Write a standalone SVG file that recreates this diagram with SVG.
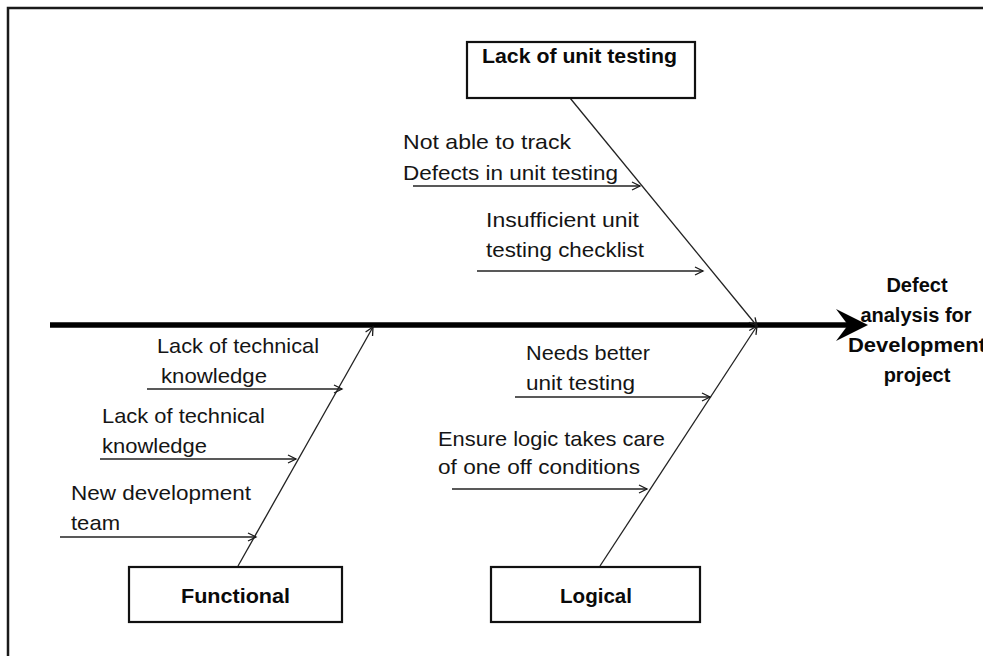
<svg xmlns="http://www.w3.org/2000/svg" width="983" height="656" viewBox="0 0 983 656">
  <defs>
    <marker id="open-arrow" markerUnits="userSpaceOnUse" markerWidth="12" markerHeight="12" refX="9" refY="5" orient="auto">
      <path d="M1,1 L9,5 L1,9" fill="none" stroke="#1a1a1a" stroke-width="1.3"/>
    </marker>
  </defs>
  <style>
    .frame { fill: none; stroke: #1a1a1a; stroke-width: 2.5; }
    .box { fill: #fff; stroke: #111; stroke-width: 2.2; }
    .bone { stroke: #222; stroke-width: 1.3; fill: none; marker-end: url(#open-arrow); }
    .spine { stroke: #000; stroke-width: 5.5; fill: none; }
    .label { font-family: "Liberation Sans", Arial, sans-serif; font-size: 21px; fill: #151515; }
    .title { font-family: "Liberation Sans", Arial, sans-serif; font-size: 20px; font-weight: bold; fill: #0a0a0a; }
  </style>

  <rect width="983" height="656" fill="#fff"/>
  <!-- outer frame, open to the right and bottom -->
  <rect class="frame" x="8" y="8" width="1000" height="700"/>

  <!-- connectors: spine, main bones and cause arrows -->
  <g id="connectors">
    <line class="spine" x1="50" y1="325" x2="852" y2="325"/>
    <polygon points="868,325 836,309 848,325 836,341" fill="#000"/>

    <line class="bone" x1="570" y1="98" x2="757" y2="326"/>
    <line class="bone" x1="600" y1="566" x2="757" y2="326"/>
    <line class="bone" x1="238" y1="566" x2="373" y2="327"/>

    <line class="bone" x1="413" y1="186" x2="640" y2="186"/>
    <line class="bone" x1="477" y1="271" x2="703" y2="271"/>
    <line class="bone" x1="515" y1="397" x2="710" y2="397"/>
    <line class="bone" x1="452" y1="489" x2="647" y2="489"/>
    <line class="bone" x1="147" y1="389" x2="342" y2="389"/>
    <line class="bone" x1="100" y1="459" x2="296" y2="459"/>
    <line class="bone" x1="60" y1="537" x2="256" y2="537"/>
  </g>

  <g id="lack-of-unit-testing">
    <rect class="box" x="467" y="42" width="228" height="56"/>
    <text class="title" x="482" y="63" textLength="195" lengthAdjust="spacingAndGlyphs">Lack of unit testing</text>
  </g>

  <g id="functional">
    <rect class="box" x="129" y="567" width="213" height="55"/>
    <text class="title" x="235.5" y="603" text-anchor="middle" textLength="109" lengthAdjust="spacingAndGlyphs">Functional</text>
  </g>

  <g id="logical">
    <rect class="box" x="491" y="567" width="209" height="55"/>
    <text class="title" x="596" y="603" text-anchor="middle" textLength="72" lengthAdjust="spacingAndGlyphs">Logical</text>
  </g>

  <g id="effect">
    <text class="title" x="917" y="292" text-anchor="middle">Defect</text>
    <text class="title" x="916" y="322" text-anchor="middle">analysis for</text>
    <text class="title" x="848" y="352" textLength="138" lengthAdjust="spacingAndGlyphs">Development</text>
    <text class="title" x="917" y="382" text-anchor="middle">project</text>
  </g>

  <g id="cause-track-defects">
    <text class="label" x="403" y="149" textLength="168" lengthAdjust="spacingAndGlyphs">Not able to track</text>
    <text class="label" x="403" y="180" textLength="215" lengthAdjust="spacingAndGlyphs">Defects in unit testing</text>
  </g>

  <g id="cause-checklist">
    <text class="label" x="486" y="227" textLength="153" lengthAdjust="spacingAndGlyphs">Insufficient unit</text>
    <text class="label" x="486" y="257" textLength="158" lengthAdjust="spacingAndGlyphs">testing checklist</text>
  </g>

  <g id="cause-technical-1">
    <text class="label" x="157" y="353" textLength="162" lengthAdjust="spacingAndGlyphs">Lack of technical</text>
    <text class="label" x="161" y="383" textLength="106" lengthAdjust="spacingAndGlyphs">knowledge</text>
  </g>

  <g id="cause-technical-2">
    <text class="label" x="102" y="423" textLength="163" lengthAdjust="spacingAndGlyphs">Lack of technical</text>
    <text class="label" x="102" y="453" textLength="105" lengthAdjust="spacingAndGlyphs">knowledge</text>
  </g>

  <g id="cause-new-team">
    <text class="label" x="71" y="500" textLength="180" lengthAdjust="spacingAndGlyphs">New development</text>
    <text class="label" x="71" y="530" textLength="49" lengthAdjust="spacingAndGlyphs">team</text>
  </g>

  <g id="cause-better-testing">
    <text class="label" x="526" y="360" textLength="124" lengthAdjust="spacingAndGlyphs">Needs better</text>
    <text class="label" x="526" y="390" textLength="109" lengthAdjust="spacingAndGlyphs">unit testing</text>
  </g>

  <g id="cause-one-off">
    <text class="label" x="438" y="446" textLength="227" lengthAdjust="spacingAndGlyphs">Ensure logic takes care</text>
    <text class="label" x="438" y="474" textLength="202" lengthAdjust="spacingAndGlyphs">of one off conditions</text>
  </g>
</svg>
